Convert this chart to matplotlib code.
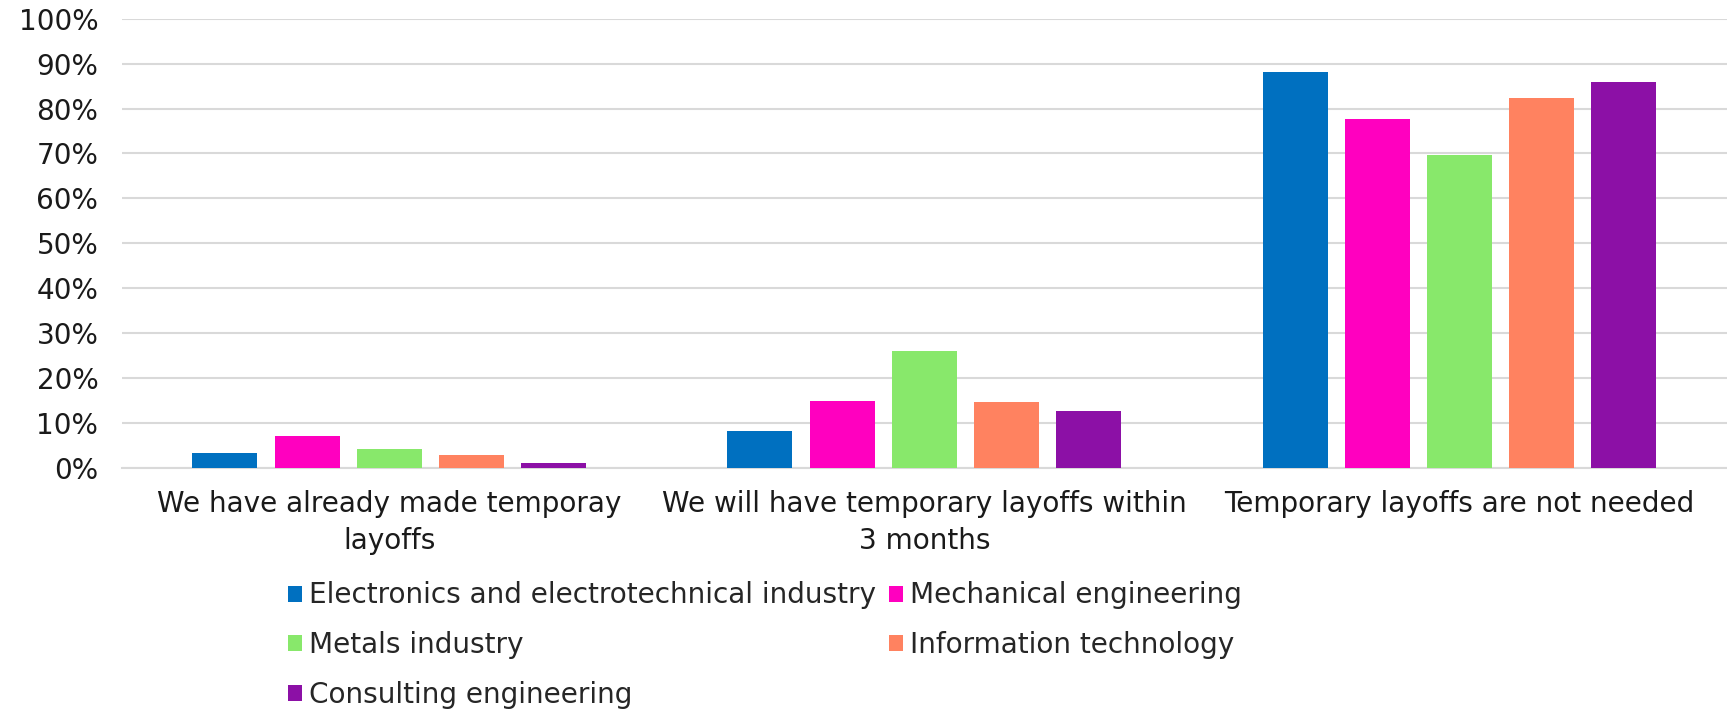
import matplotlib
matplotlib.use("Agg")
import matplotlib.pyplot as plt
import numpy as np
from matplotlib.patches import Patch

categories = [
    "We have already made temporay\nlayoffs",
    "We will have temporary layoffs within\n3 months",
    "Temporary layoffs are not needed",
]
series = [
    "Electronics and electrotechnical industry",
    "Mechanical engineering",
    "Metals industry",
    "Information technology",
    "Consulting engineering",
]
values = [
    [3.4, 8.2, 88.2],
    [7.1, 15.0, 77.7],
    [4.3, 26.1, 69.6],
    [2.8, 14.7, 82.4],
    [1.2, 12.8, 85.9],
]
colors = ["#0070C0", "#FF00BF", "#88E86B", "#FF8260", "#8C10A6"]

plt.rcParams["font.family"] = ["DejaVu Sans"]

fig = plt.figure(figsize=(17.27, 7.10), dpi=100)
ax = fig.add_axes([0.0706, 0.3408, 0.9294, 0.6329])

x = np.arange(len(categories))
width = 0.1215
step = 0.1537
for i, (name, vals) in enumerate(zip(series, values)):
    ax.bar(x + (i - 2) * step, np.array(vals) / 100, width, color=colors[i],
           label=name, zorder=3)

ax.set_xlim(-0.5, 2.5)
ax.set_ylim(0, 1)
ax.set_yticks(np.arange(0, 1.01, 0.1))
ax.set_yticklabels([f"{int(round(t * 100))}%" for t in np.arange(0, 1.01, 0.1)])
ax.set_xticks(x)
ax.set_xticklabels(categories, linespacing=1.4)
ax.tick_params(axis="both", length=0, labelsize=20.1, colors="#1a1a1a")
ax.tick_params(axis="y", pad=17)
ax.tick_params(axis="x", pad=16)
ax.grid(axis="y", color="#D9D9D9", linewidth=1.5, zorder=0)
for s in ["top", "right", "left"]:
    ax.spines[s].set_visible(False)
ax.spines["bottom"].set_color("#D9D9D9")
ax.spines["bottom"].set_linewidth(1.5)

handles = [Patch(facecolor=c, label=n) for c, n in zip(colors, series)]
order = [0, 2, 4, 1, 3]
fig.legend([handles[i] for i in order], [series[i] for i in order],
           loc="upper left", bbox_to_anchor=(0.167, 0.181), ncol=2,
           frameon=False, fontsize=20.1, handlelength=0.5, handleheight=0.5,
           handletextpad=0.25, columnspacing=0.45, labelspacing=0.78,
           labelcolor="#262626", borderaxespad=0, borderpad=0)

fig.savefig("out.png", dpi=100)
